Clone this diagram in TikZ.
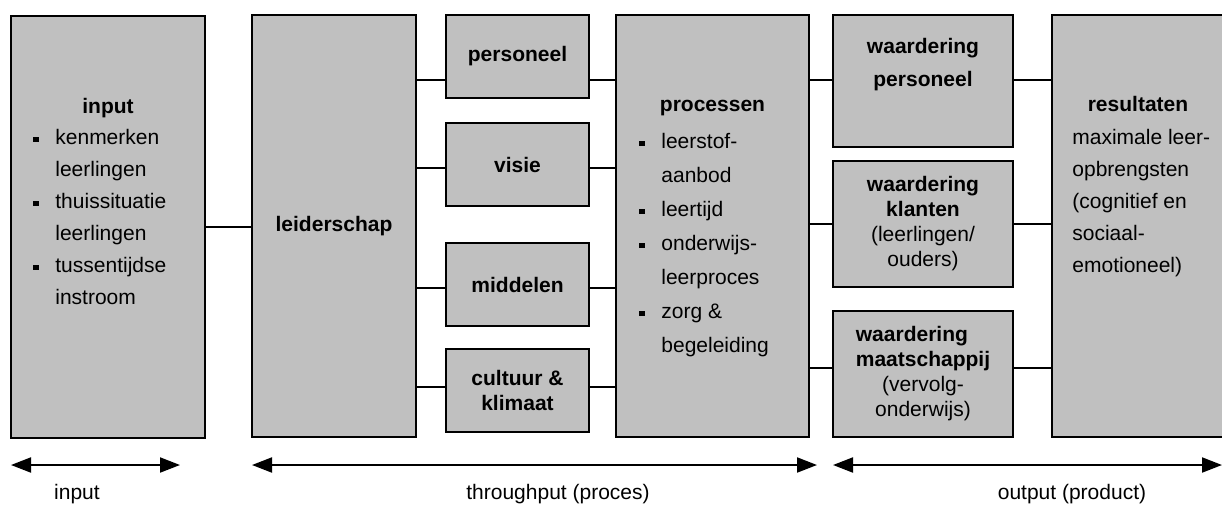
\documentclass[tikz,border=0pt]{standalone}
\usepackage{fontspec}
\setmainfont{Liberation Sans}
\usetikzlibrary{arrows.meta}
\definecolor{boxgray}{RGB}{192,192,192}
\newcommand{\bul}{\makebox[11pt][l]{\rule[1.4pt]{2.6pt}{2.6pt}}}
\newcommand{\ind}{\hspace*{11pt}}

\begin{document}
\begin{tikzpicture}[x=0.5pt,y=-0.5pt,
  box/.style={draw, line width=1pt, fill=boxgray, inner sep=0pt, align=center,
    font=\fontsize{10.5}{12.5}\selectfont},
  lst/.style={inner sep=0pt, align=left, anchor=north west},
  head/.style={inner sep=0pt, anchor=base, font=\bfseries\fontsize{10.5}{16}\selectfont},
  link/.style={line width=0.75pt},
  span/.style={line width=1pt, {Triangle[length=10pt,width=7.5pt]}-{Triangle[length=10pt,width=7.5pt]}},
  lbl/.style={inner sep=0pt, anchor=base, font=\fontsize{10.5}{12.5}\selectfont}]

\useasboundingbox (0,0) rectangle (1222,505);

% columns of boxes
\node[box, minimum width=97pt, minimum height=211pt] (in) at (108,227) {};
\node[box, minimum width=82pt, minimum height=211pt] (lead) at (334,226) {\textbf{leiderschap}};
\node[box, minimum width=71.5pt, minimum height=41.5pt] (pers) at (517.5,56.5) {\textbf{personeel}};
\node[box, minimum width=71.5pt, minimum height=41.5pt] (vis) at (517.5,164.5) {\textbf{visie}};
\node[box, minimum width=71.5pt, minimum height=41.5pt] (mid) at (517.5,284.5) {\textbf{middelen}};
\node[box, minimum width=71.5pt, minimum height=41.5pt] (cul) at (517.5,390.5) {\textbf{cultuur \&}\\\textbf{klimaat}};
\node[box, minimum width=96.5pt, minimum height=211pt] (proc) at (712.5,226) {};
\node[box, minimum width=90pt, minimum height=66pt] (wpers) at (923,81) {};
\node[box, minimum width=90pt, minimum height=63pt] (wkl) at (923,224) {\textbf{waardering}\\\textbf{klanten}\\(leerlingen/\\ouders)};
\node[box, minimum width=90pt, minimum height=63pt] (wmt) at (923,374)
  {\textbf{\rlap{waardering}\phantom{maatschappij}}\\\textbf{maatschappij}\\(vervolg-\\onderwijs)};
\node[box, minimum width=87pt, minimum height=211pt] (res) at (1138.5,226) {};

% texts in the tall boxes
\node[head] (inhead) at (108,113) {input};
\node[lst, font=\fontsize{10.5}{16}\selectfont] (inlist) at (33,129)
  {\bul kenmerken\\\ind leerlingen\\\bul thuissituatie\\\ind leerlingen\\\bul tussentijdse\\\ind instroom};
\node[head] (prochead) at (712.5,111) {processen};
\node[lst, font=\fontsize{10.5}{17}\selectfont] (proclist) at (639,133)
  {\bul leerstof-\\\ind aanbod\\\bul leertijd\\\bul onderwijs-\\\ind leerproces\\\bul zorg \&\\\ind begeleiding};
\node[head, anchor=north, align=center, font=\bfseries\fontsize{10.5}{16.5}\selectfont] (wperstext) at (923,38)
  {waardering\\personeel};
\node[head] (reshead) at (1138,111) {resultaten};
\node[lst, font=\fontsize{10.5}{16}\selectfont] (reslist) at (1072,129)
  {maximale leer-\\opbrengsten\\(cognitief en\\sociaal-\\emotioneel)};

% connectors
\draw[link] (in.east) -- (in.east -| lead.west);
\foreach \b/\y in {pers/80, vis/168, mid/288, cul/387}{
  \draw[link] (lead.east |- 0,\y) -- (\b.west |- 0,\y);
  \draw[link] (\b.east |- 0,\y) -- (proc.west |- 0,\y);
}
\foreach \b/\y in {wpers/80, wkl/224, wmt/368}{
  \draw[link] (proc.east |- 0,\y) -- (\b.west |- 0,\y);
  \draw[link] (\b.east |- 0,\y) -- (res.west |- 0,\y);
}

% phases
\coordinate (inL) at (11,465);
\coordinate (inR) at (180,465);
\coordinate (thL) at (252,465);
\coordinate (thR) at (817,465);
\coordinate (outL) at (833,465);
\coordinate (outR) at (1222,465);
\draw[span] (inL) -- (inR);
\draw[span] (thL) -- (thR);
\draw[span] (outL) -- (outR);
\node[lbl] (inlbl) at (77,499) {input};
\node[lbl] (thlbl) at (558,499) {throughput (proces)};
\node[lbl] (outlbl) at (1072,499) {output (product)};
\end{tikzpicture}
\end{document}
